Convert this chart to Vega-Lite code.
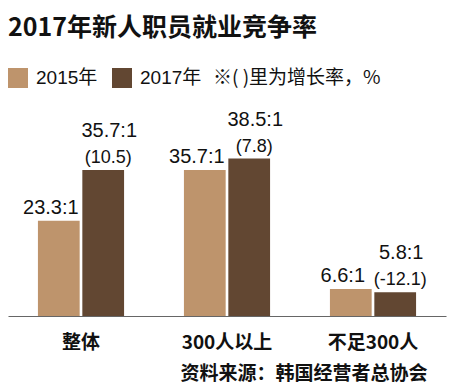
{
  "$schema": "https://vega.github.io/schema/vega-lite/v6.json",
  "width": 438,
  "height": 216,
  "autosize": {"type": "none"},
  "padding": {"left": 8, "top": 100, "right": 4, "bottom": 72},
  "background": "white",
  "title": {
    "text": "2017年新人职员就业竞争率",
    "anchor": "start",
    "frame": "group",
    "font": "Noto Sans CJK SC",
    "fontSize": 25,
    "fontWeight": "bold",
    "color": "#111111",
    "offset": 27
  },
  "data": {
    "values": [
      {"group": "整体", "year": "2015年", "value": 23.3, "ratio": "23.3:1", "growth": ""},
      {"group": "整体", "year": "2017年", "value": 35.7, "ratio": "35.7:1", "growth": "(10.5)"},
      {"group": "300人以上", "year": "2015年", "value": 35.7, "ratio": "35.7:1", "growth": ""},
      {"group": "300人以上", "year": "2017年", "value": 38.5, "ratio": "38.5:1", "growth": "(7.8)"},
      {"group": "不足300人", "year": "2015年", "value": 6.6, "ratio": "6.6:1", "growth": ""},
      {"group": "不足300人", "year": "2017年", "value": 5.8, "ratio": "5.8:1", "growth": "(-12.1)"}
    ]
  },
  "encoding": {
    "x": {
      "field": "group",
      "type": "nominal",
      "sort": ["整体", "300人以上", "不足300人"],
      "scale": {"paddingInner": 0.41, "paddingOuter": 0.205},
      "axis": {
        "title": "资料来源：韩国经营者总协会",
        "titleFont": "Noto Sans CJK SC",
        "titleFontSize": 19,
        "titleFontWeight": "bold",
        "titleColor": "#111111",
        "titleX": 419,
        "titleY": 57,
        "titleAlign": "right",
        "titleBaseline": "middle",
        "labelAngle": 0,
        "labelFont": "Noto Sans CJK SC",
        "labelFontSize": 19,
        "labelFontWeight": "bold",
        "labelColor": "#111111",
        "labelPadding": 17,
        "ticks": false,
        "domainColor": "#666666",
        "domainWidth": 1.2
      }
    },
    "xOffset": {
      "field": "year",
      "type": "nominal",
      "scale": {"paddingInner": 0.06}
    },
    "y": {
      "field": "value",
      "type": "quantitative",
      "scale": {"domain": [0, 52.8], "nice": false},
      "axis": null
    }
  },
  "layer": [
    {
      "mark": {"type": "bar"},
      "encoding": {
        "color": {
          "field": "year",
          "type": "nominal",
          "scale": {"domain": ["2015年", "2017年"], "range": ["#BE946C", "#624732"]},
          "legend": {
            "orient": "none",
            "legendX": 0,
            "legendY": -32,
            "direction": "horizontal",
            "title": "※( )里为增长率，%",
            "titleOrient": "right",
            "titleFont": "Noto Sans CJK SC",
            "titleFontSize": 19,
            "titleFontWeight": "normal",
            "titleColor": "#111111",
            "titlePadding": 12,
            "titleBaseline": "middle",
            "symbolType": "square",
            "symbolSize": 400,
            "symbolStrokeWidth": 0,
            "labelFont": "Liberation Sans, Noto Sans CJK SC",
            "labelFontSize": 19,
            "labelColor": "#111111",
            "labelOffset": 8,
            "columnPadding": 14
          }
        }
      }
    },
    {
      "transform": [{"filter": "datum.year === '2015年'"}],
      "mark": {"type": "text", "baseline": "alphabetic", "dy": -7, "dx": -8, "font": "Liberation Sans", "fontSize": 20, "color": "#111111"},
      "encoding": {"text": {"field": "ratio"}}
    },
    {
      "transform": [{"filter": "datum.year === '2017年'"}],
      "mark": {"type": "text", "baseline": "alphabetic", "dy": -33, "dx": 6, "font": "Liberation Sans", "fontSize": 20, "color": "#111111"},
      "encoding": {"text": {"field": "ratio"}}
    },
    {
      "transform": [{"filter": "datum.year === '2017年'"}],
      "mark": {"type": "text", "baseline": "alphabetic", "dy": -7, "dx": 5, "font": "Liberation Sans", "fontSize": 18, "color": "#111111"},
      "encoding": {"text": {"field": "growth"}}
    }
  ],
  "config": {
    "view": {"stroke": null}
  }
}
